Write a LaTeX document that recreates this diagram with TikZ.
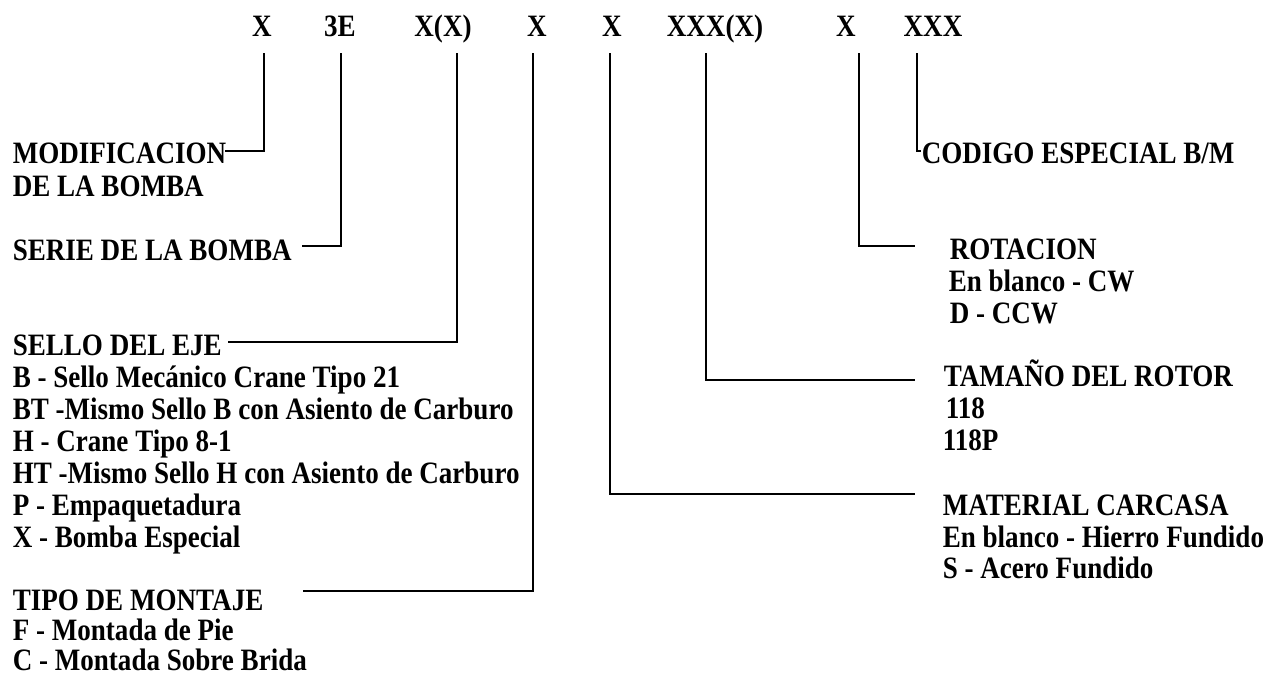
\documentclass[tikz,border=0pt]{standalone}
\usepackage{fontspec}
\setmainfont{Liberation Serif}[FakeStretch=0.87]
\begin{document}
\begin{tikzpicture}[x=0.02cm, y=-0.02cm, line width=0.9pt,
    txt/.style={anchor=base west, inner sep=0pt, font=\fontsize{17.7}{20}\selectfont\bfseries},
    code/.style={anchor=base, inner sep=0pt, font=\fontsize{17.7}{20}\selectfont\bfseries}]
    \useasboundingbox (0,0) rectangle (1263,677);
    % code letters along the top
    \node[code] (cMod) at (262,36) {X};
    \node[code] (cSer) at (340,36) {3E};
    \node[code] (cSel) at (443,36) {X(X)};
    \node[code] (cMon) at (537,36) {X};
    \node[code] (cMat) at (612,36) {X};
    \node[code] (cTam) at (715,36) {XXX(X)};
    \node[code] (cRot) at (846,36) {X};
    \node[code] (cCod) at (933,36) {XXX};
    % left column
    \node[txt] (mod1) at (12,163) {MODIFICACION};
    \node[txt] (mod2) at (12,196) {DE LA BOMBA};
    \node[txt] (ser) at (12,260) {SERIE DE LA BOMBA};
    \node[txt] (sel) at (12,355) {SELLO DEL EJE};
    \node[txt] (selB) at (12,387) {B - Sello Mecánico Crane Tipo 21};
    \node[txt] (selBT) at (12,419) {BT -Mismo Sello B con Asiento de Carburo};
    \node[txt] (selH) at (12,451) {H - Crane Tipo 8-1};
    \node[txt] (selHT) at (12,483) {HT -Mismo Sello H con Asiento de Carburo};
    \node[txt] (selP) at (12,515) {P - Empaquetadura};
    \node[txt] (selX) at (12,547) {X - Bomba Especial};
    \node[txt] (mon) at (12,610) {TIPO DE MONTAJE};
    \node[txt] (monF) at (12,640) {F - Montada de Pie};
    \node[txt] (monC) at (12,670) {C - Montada Sobre Brida};
    % right column
    \node[txt] (cod) at (921,163) {CODIGO ESPECIAL B/M};
    \node[txt] (rot) at (949,259) {ROTACION};
    \node[txt] (rot1) at (948,291) {En blanco - CW};
    \node[txt] (rot2) at (949,323) {D - CCW};
    \node[txt] (tam) at (943,386) {TAMAÑO DEL ROTOR};
    \node[txt] (tam1) at (945,418) {118};
    \node[txt] (tam2) at (942,450) {118P};
    \node[txt] (mat) at (942,515) {MATERIAL CARCASA};
    \node[txt] (mat1) at (942,547) {En blanco - Hierro Fundido};
    \node[txt] (mat2) at (942,578) {S - Acero Fundido};
    % leader lines: top ends
    \coordinate (tMod) at (264,53);
    \coordinate (tSer) at (341,53);
    \coordinate (tSel) at (457,53);
    \coordinate (tMon) at (533,53);
    \coordinate (tMat) at (610,53);
    \coordinate (tTam) at (706,53);
    \coordinate (tRot) at (859,53);
    \coordinate (tCod) at (917,53);
    % leader lines: free ends
    \coordinate (eMod) at (225,151);
    \coordinate (eSer) at (302,246);
    \coordinate (eSel) at (228,342);
    \coordinate (eMon) at (303,591);
    \coordinate (eMat) at (915,494);
    \coordinate (eTam) at (915,380);
    \coordinate (eRot) at (915,246);
    \coordinate (eCod) at (921,151);
    \draw (tMod) |- (eMod);
    \draw (tSer) |- (eSer);
    \draw (tSel) |- (eSel);
    \draw (tMon) |- (eMon);
    \draw (tMat) |- (eMat);
    \draw (tTam) |- (eTam);
    \draw (tRot) |- (eRot);
    \draw (tCod) |- (eCod);
\end{tikzpicture}
\end{document}
